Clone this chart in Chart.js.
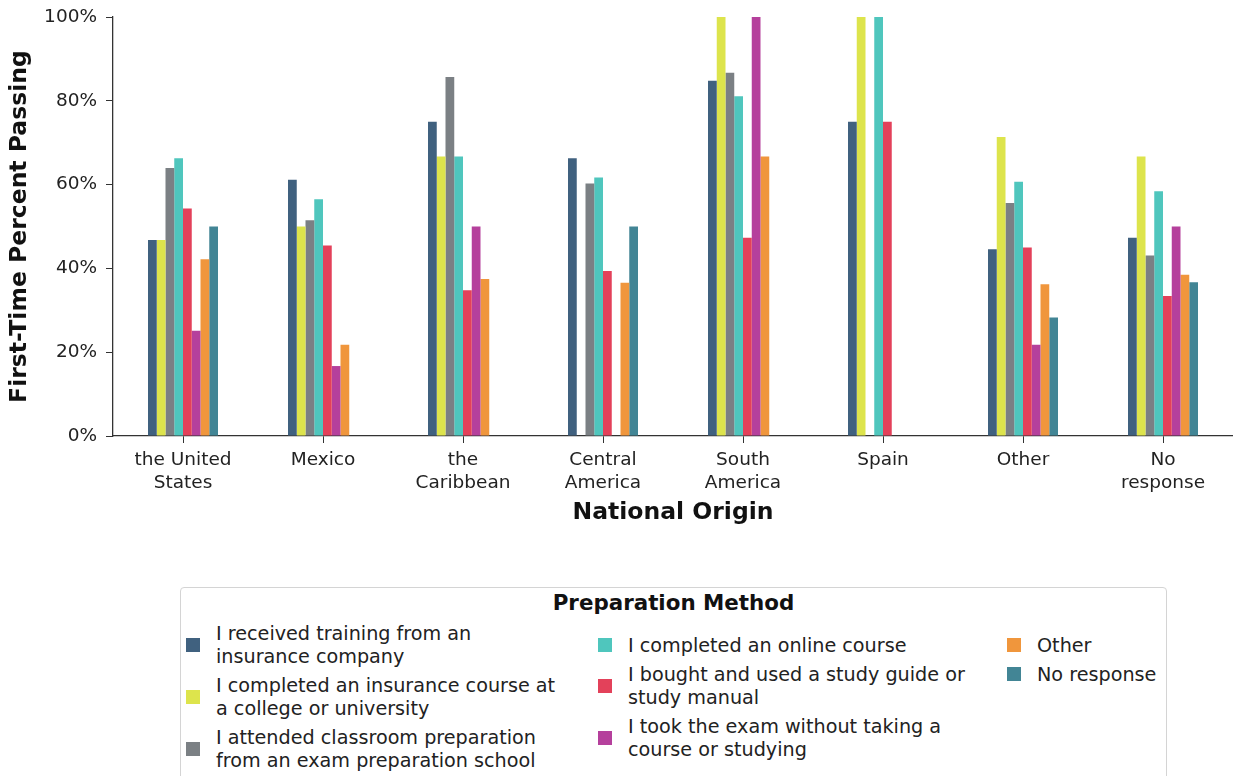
<!DOCTYPE html>
<html>
<head>
<meta charset="utf-8">
<title>First-Time Percent Passing</title>
<script src="https://cdn.jsdelivr.net/npm/chart.js@4.4.0/dist/chart.umd.min.js"></script>
<style>
  body { margin: 0; background: #fff; font-family: "DejaVu Sans", sans-serif; }
  #wrap { position: relative; width: 1233px; height: 776px; overflow: hidden; }
  #grafico { position: absolute; left: 0; top: -3px; }
  #legenda {
    position: absolute; left: 180px; top: 587px; width: 987px; height: 210px;
    border: 1px solid #d4d4d4; border-radius: 4px; box-sizing: border-box;
  }
  #legenda .titulo {
    position: absolute; left: 0; right: 0; top: 2px; text-align: center;
    font-weight: bold; font-size: 21.4px; line-height: 25px; color: #111;
  }
  #legenda .coluna { position: absolute; display: flex; flex-direction: column; gap: 6px; }
  #legenda .item { display: flex; align-items: center; }
  #legenda .marca { width: 14px; height: 14px; flex: none; margin-right: 16px; }
  #legenda .texto { font-size: 19.2px; line-height: 23px; color: #222; white-space: pre; }
</style>
</head>
<body>
<div id="wrap">
  <canvas id="grafico" width="1233" height="530"></canvas>
  <div id="legenda"></div>
</div>
<script>
// categorias (eixo x)
var origens = [
  ['the United', 'States'], 'Mexico', ['the', 'Caribbean'], ['Central', 'America'],
  ['South', 'America'], 'Spain', 'Other', ['No', 'response']
];
var ticksY = [0, 20, 40, 60, 80, 100];

// nomes das series (legenda)
var metodos = [
  'I received training from an\ninsurance company',
  'I completed an insurance course at\na college or university',
  'I attended classroom preparation\nfrom an exam preparation school',
  'I completed an online course',
  'I bought and used a study guide or\nstudy manual',
  'I took the exam without taking a\ncourse or studying',
  'Other',
  'No response'
];
var cores = ['#40617f', '#dde44c', '#7b8084', '#4fc6bd', '#e3415a', '#b5409c', '#f0963c', '#428595'];

// valores em % por metodo
var treinamento = [46.8, 61.2, 75.0, 66.3, 84.8, 75.0, 44.6, 47.3];
var faculdade   = [46.8, 50.0, 66.7, null, 100, 100, 71.4, 66.7];
var sala        = [64.0, 51.5, 85.7, 60.3, 86.7, null, 55.6, 43.1];
var online      = [66.3, 56.5, 66.7, 61.7, 81.1, 100, 60.7, 58.4];
var guia        = [54.3, 45.5, 34.8, 39.4, 47.3, 75.0, 45.0, 33.4];
var semEstudo   = [25.1, 16.7, 50.0, null, 100, null, 21.8, 50.0];
var outro       = [42.2, 21.8, 37.5, 36.6, 66.7, null, 36.2, 38.5];
var semResposta = [50.0, null, null, 50.0, null, null, 28.3, 36.7];

var valores = [treinamento, faculdade, sala, online, guia, semEstudo, outro, semResposta];

var fonte = 'DejaVu Sans';
var datasets = [];
for (var i = 0; i < metodos.length; i++) {
  datasets.push({
    label: metodos[i],
    data: valores[i],
    backgroundColor: cores[i],
    borderWidth: 0,
    categoryPercentage: 0.5,
    barPercentage: 1
  });
}

const ctx = document.getElementById('grafico').getContext('2d');
const grafico = new Chart(ctx, {
  type: 'bar',
  data: { labels: origens, datasets: datasets },
  options: {
    responsive: false,
    animation: false,
    layout: { padding: { top: 13, right: 0, bottom: 0, left: 0 } },
    plugins: { legend: { display: false }, tooltip: { enabled: false } },
    scales: {
      x: {
        grid: { display: true, offset: false, drawOnChartArea: false, drawTicks: true, tickLength: 7, tickColor: '#333', color: '#333' },
        border: { display: true, color: '#333', width: 1.3 },
        ticks: { color: '#222', padding: 6, maxRotation: 0, autoSkip: false,
                 font: { family: fonte, size: 18.5, lineHeight: 1.24 } },
        title: { display: true, text: 'National Origin', color: '#111', padding: 0,
                 font: { family: fonte, size: 23.5, weight: 'bold', lineHeight: 1.2 } },
        afterFit: function (s) { s.height = 91; }
      },
      y: {
        min: 0, max: 100,
        afterBuildTicks: function (s) { s.ticks = ticksY.map(function (v) { return { value: v }; }); },
        grid: { display: true, drawOnChartArea: false, drawTicks: true, tickLength: 7, tickColor: '#333', color: '#333' },
        border: { display: true, color: '#333', width: 1.3 },
        ticks: { color: '#222', padding: 9, callback: function (v) { return v + '%'; },
                 font: { family: fonte, size: 18.5 } },
        title: { display: true, text: 'First-Time Percent Passing', color: '#111', padding: { top: 6, bottom: 0 },
                 font: { family: fonte, size: 23.5, weight: 'bold', lineHeight: 1.2 } },
        afterFit: function (s) { s.width = 113; }
      }
    }
  }
});

// legenda em html, 3 colunas preenchidas por coluna
var legenda = document.getElementById('legenda');
var tit = document.createElement('div');
tit.className = 'titulo';
tit.textContent = 'Preparation Method';
legenda.appendChild(tit);

var colunas = [[0, 1, 2], [3, 4, 5], [6, 7]];
var posCol = [{ left: 5, top: 34 }, { left: 417, top: 45.5 }, { left: 826, top: 45.5 }];
colunas.forEach(function (idx, c) {
  var col = document.createElement('div');
  col.className = 'coluna';
  col.style.left = posCol[c].left + 'px';
  col.style.top = posCol[c].top + 'px';
  idx.forEach(function (k) {
    var ds = grafico.data.datasets[k];
    var item = document.createElement('div');
    item.className = 'item';
    var m = document.createElement('span');
    m.className = 'marca';
    m.style.background = ds.backgroundColor;
    var t = document.createElement('span');
    t.className = 'texto';
    t.textContent = ds.label;
    item.appendChild(m);
    item.appendChild(t);
    col.appendChild(item);
  });
  legenda.appendChild(col);
});
</script>
</body>
</html>
